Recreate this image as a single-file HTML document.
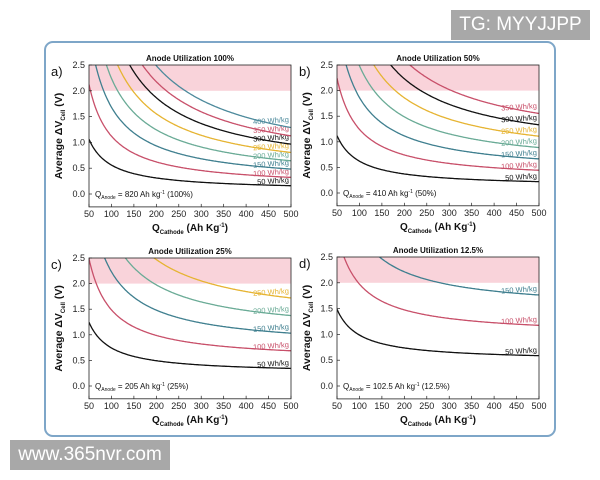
<!DOCTYPE html>
<html><head><meta charset="utf-8">
<style>
html,body{margin:0;padding:0;background:#fff;}
body{width:600px;height:480px;position:relative;overflow:hidden;font-family:"Liberation Sans",sans-serif;}
.tag{position:absolute;background:#a8a8a8;color:#fff;font-family:"Liberation Sans",sans-serif;}
</style></head>
<body>
<svg id="s" width="600" height="480" xmlns="http://www.w3.org/2000/svg" style="position:absolute;left:0;top:0">
<rect x="45" y="42" width="510" height="394" rx="8" ry="8" fill="#fff" stroke="#7ea6c8" stroke-width="2"/>
</svg>
<div class="tag" style="left:451px;top:10px;width:139px;height:30px;font-size:19px;line-height:30px;text-align:center;">TG: MYYJJPP</div>
<div class="tag" style="left:10px;top:440px;width:160px;height:30px;font-size:19px;line-height:30px;text-align:center;">www.365nvr.com</div>
<script>
var svg=document.getElementById('s');var NS='http://www.w3.org/2000/svg';
function el(t,a,txt){var e=document.createElementNS(NS,t);for(var k in a)e.setAttribute(k,a[k]);if(txt!==undefined)e.textContent=txt;svg.appendChild(e);return e;}
var C={50:'#111',100:'#c8506a',150:'#3f7f8f',200:'#6aab96',250:'#e6b432',300:'#111',350:'#c8506a',400:'#4d8a9c'};
var panels=[
 {x0:89,x1:291,yt:65,yb:194,qa:820,E:[50,100,150,200,250,300,350,400],t:'Anode Utilization 100%',l:'a)',q:'820 Ah kg',p:'(100%)'},
 {x0:337,x1:539,yt:65,yb:193,qa:410,E:[50,100,150,200,250,300,350],t:'Anode Utilization 50%',l:'b)',q:'410 Ah kg',p:'(50%)'},
 {x0:89,x1:291,yt:258,yb:386,qa:205,E:[50,100,150,200,250],t:'Anode Utilization 25%',l:'c)',q:'205 Ah kg',p:'(25%)'},
 {x0:337,x1:539,yt:257,yb:386,qa:102.5,E:[50,100,150],t:'Anode Utilization 12.5%',l:'d)',q:'102.5 Ah kg',p:'(12.5%)'}];
panels.forEach(function(P){
 var sx=function(q){return P.x0+(q-50)/450*(P.x1-P.x0);};
 var k=(P.yb-P.yt)/2.5;var sy=function(v){return P.yb-v*k;};
 var bot=sy(-0.25);
 el('rect',{x:P.x0,y:P.yt,width:P.x1-P.x0,height:sy(2)-P.yt,fill:'#f9d3da'});
 var cid='c'+P.x0+P.yt;
 var cp=el('clipPath',{id:cid});var r=document.createElementNS(NS,'rect');r.setAttribute('x',P.x0);r.setAttribute('y',P.yt);r.setAttribute('width',P.x1-P.x0);r.setAttribute('height',bot-P.yt);cp.appendChild(r);
 P.E.forEach(function(E){
  var d='';for(var q=50;q<=500;q+=2){var v=E*(1/q+1/P.qa);d+=(q==50?'M':'L')+sx(q).toFixed(1)+','+sy(v).toFixed(1);}
  el('path',{d:d,fill:'none',stroke:C[E],'stroke-width':1.3,'clip-path':'url(#'+cid+')'});
  var ve=E*(1/470+1/P.qa);
  el('text',{x:P.x1-2,y:sy(ve)-3,'text-anchor':'end','font-size':7.5,fill:C[E],transform:'rotate(-4 '+(P.x1-2)+' '+(sy(ve)-3)+')'},E+' Wh/kg');
 });
 el('rect',{x:P.x0,y:P.yt,width:P.x1-P.x0,height:bot-P.yt,fill:'none',stroke:'#222','stroke-width':0.8});
 for(var q=50;q<=500;q+=50){var x=sx(q);el('line',{x1:x,x2:x,y1:bot,y2:bot-3,stroke:'#222','stroke-width':0.7});
  el('text',{x:x,y:bot+10,'text-anchor':'middle','font-size':9,fill:'#222'},q);}
 for(var v=0;v<=2.5;v+=0.5){var y=sy(v);el('line',{x1:P.x0,x2:P.x0+3,y1:y,y2:y,stroke:'#222','stroke-width':0.7});
  el('text',{x:P.x0-4,y:y+3,'text-anchor':'end','font-size':9,fill:'#222'},v.toFixed(1));}
 el('text',{x:(P.x0+P.x1)/2,y:P.yt-4,'text-anchor':'middle','font-size':8,'font-weight':'bold',fill:'#111'},P.t);
 el('text',{x:P.x0-38,y:P.yt+11,'font-size':13,fill:'#111'},P.l);
 var tx=el('text',{x:P.x0+6,y:sy(0)+3,'font-size':8,fill:'#111'});
 tx.innerHTML='Q<tspan font-size="5" dy="2">Anode</tspan><tspan dy="-2"> = '+P.q+'</tspan><tspan font-size="5" dy="-3">-1</tspan><tspan dy="3"> '+P.p+'</tspan>';
 var xl=el('text',{x:(P.x0+P.x1)/2,y:bot+24,'text-anchor':'middle','font-size':10,'font-weight':'bold',fill:'#111'});
 xl.innerHTML='Q<tspan font-size="6" dy="3">Cathode</tspan><tspan dy="-3">  (Ah Kg</tspan><tspan font-size="6" dy="-4">-1</tspan><tspan dy="4">)</tspan>';
 var cy=(P.yt+bot)/2, cx=P.x0-27;
 var yl=el('text',{x:cx,y:cy,'text-anchor':'middle','font-size':10.5,'font-weight':'bold',fill:'#111',transform:'rotate(-90 '+cx+' '+cy+')'});
 yl.innerHTML='Average ΔV<tspan font-size="6" dy="3">Cell</tspan><tspan dy="-3">  (V)</tspan>';
});
</script>
</body></html>
